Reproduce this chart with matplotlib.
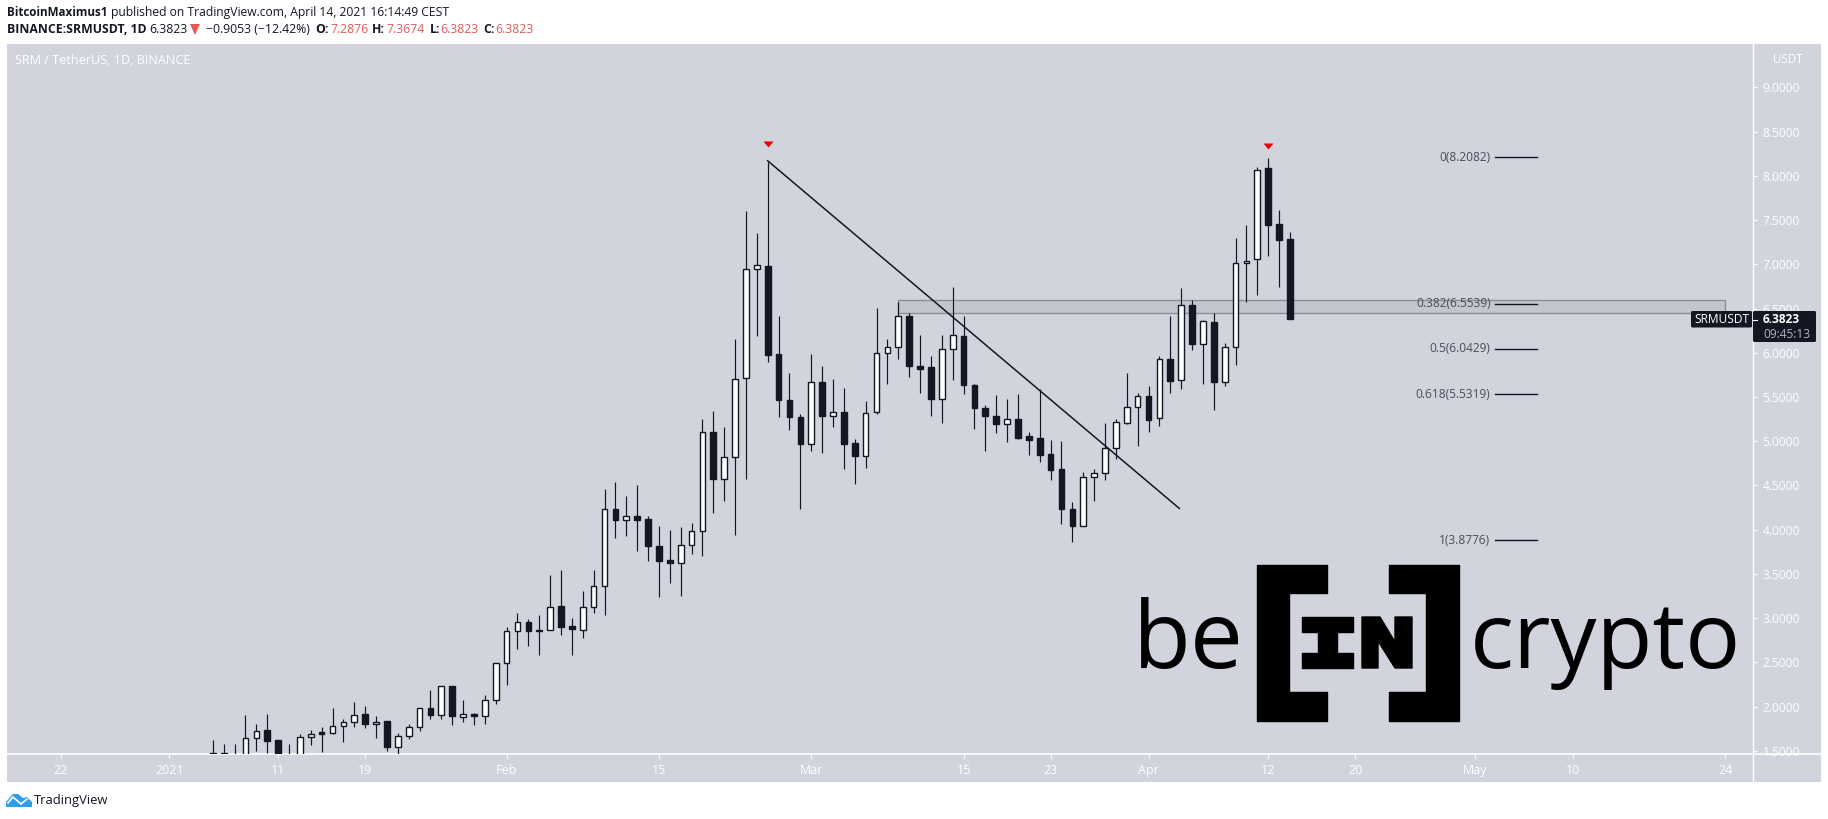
import matplotlib
matplotlib.use("Agg")
import matplotlib.pyplot as plt
import numpy as np
import pandas as pd
from matplotlib.patches import Polygon, Rectangle, FancyBboxPatch
from matplotlib.path import Path

# Daily candles, 5 Jan to 14 Apr 2021
first_day = "2021-01-05"
opens = [1.40, 1.48, 1.33, 1.38, 1.64, 1.73, 1.62, 1.38, 1.40, 1.66,
         1.71, 1.70, 1.78, 1.82, 1.92, 1.80, 1.84, 1.54, 1.67, 1.77,
         1.98, 1.90, 2.23, 1.88, 1.92, 1.89, 2.07, 2.49, 2.85, 2.96,
         2.85, 2.87, 3.14, 2.91, 2.87, 3.13, 3.36, 4.23, 4.11, 4.16,
         4.12, 3.82, 3.66, 3.62, 3.83, 3.98, 5.10, 4.57, 4.82, 5.71,
         6.95, 6.98, 5.99, 5.47, 5.27, 4.97, 5.67, 5.28, 5.33, 4.98,
         4.83, 5.33, 6.00, 6.06, 6.42, 5.85, 5.84, 5.48, 6.04, 6.19,
         5.63, 5.37, 5.29, 5.20, 5.25, 5.06, 5.04, 4.86, 4.69, 4.23,
         4.04, 4.59, 4.64, 4.92, 5.21, 5.39, 5.51, 5.26, 5.93, 5.69,
         6.54, 6.10, 6.35, 5.67, 6.07, 7.02, 7.06, 8.09, 7.46, 7.2876]
highs = [1.62, 1.58, 1.58, 1.90, 1.80, 1.92, 1.62, 1.58, 1.69, 1.73,
         1.77, 1.98, 1.86, 2.05, 2.01, 1.89, 1.84, 1.70, 1.80, 1.98,
         2.19, 2.23, 2.23, 2.07, 1.93, 2.13, 2.49, 2.90, 3.06, 2.99,
         3.04, 3.49, 3.54, 3.00, 3.31, 3.54, 4.46, 4.54, 4.38, 4.50,
         4.16, 4.04, 4.00, 4.03, 4.08, 5.25, 5.34, 5.16, 6.15, 7.60,
         7.35, 8.16, 6.42, 5.77, 5.31, 5.99, 5.85, 5.70, 5.60, 5.02,
         5.46, 6.51, 6.16, 6.57, 6.45, 6.20, 5.96, 6.20, 6.74, 6.42,
         5.65, 5.41, 5.52, 5.48, 5.53, 5.10, 5.59, 5.01, 5.00, 4.31,
         4.65, 4.69, 5.21, 5.25, 5.77, 5.54, 5.62, 5.96, 6.42, 6.73,
         6.60, 6.37, 6.45, 6.11, 7.30, 7.44, 8.10, 8.20, 7.61, 7.3674]
lows = [1.35, 1.35, 1.30, 1.35, 1.50, 1.48, 1.38, 1.35, 1.38, 1.57,
        1.49, 1.69, 1.60, 1.77, 1.76, 1.64, 1.50, 1.44, 1.63, 1.72,
        1.86, 1.86, 1.79, 1.82, 1.79, 1.80, 2.03, 2.24, 2.65, 2.69,
        2.58, 2.87, 2.81, 2.58, 2.78, 3.06, 3.04, 3.90, 3.93, 3.76,
        3.65, 3.24, 3.40, 3.25, 3.73, 3.70, 4.19, 4.32, 3.94, 4.57,
        6.19, 5.90, 5.27, 5.13, 4.23, 4.89, 4.87, 5.16, 4.69, 4.52,
        4.70, 5.31, 5.65, 5.93, 5.73, 5.54, 5.29, 5.21, 5.69, 5.53,
        5.14, 4.89, 5.09, 4.99, 5.02, 4.84, 4.76, 4.56, 4.06, 3.86,
        4.04, 4.32, 4.56, 4.80, 5.20, 4.95, 5.10, 5.17, 5.54, 5.59,
        6.03, 5.65, 5.35, 5.62, 5.86, 6.57, 6.65, 7.09, 6.74, 6.3823]
closes = [1.48, 1.40, 1.40, 1.64, 1.72, 1.61, 1.41, 1.42, 1.66, 1.69,
          1.69, 1.78, 1.82, 1.91, 1.80, 1.83, 1.54, 1.67, 1.77, 1.98,
          1.90, 2.23, 1.89, 1.92, 1.89, 2.07, 2.49, 2.85, 2.96, 2.85,
          2.87, 3.13, 2.90, 2.88, 3.13, 3.36, 4.23, 4.11, 4.16, 4.11,
          3.82, 3.64, 3.62, 3.83, 3.98, 5.10, 4.57, 4.82, 5.70, 6.95,
          6.99, 5.98, 5.47, 5.27, 4.97, 5.67, 5.28, 5.33, 4.97, 4.83,
          5.32, 6.00, 6.06, 6.41, 5.85, 5.82, 5.48, 6.04, 6.20, 5.63,
          5.37, 5.29, 5.20, 5.25, 5.04, 5.01, 4.84, 4.67, 4.23, 4.04,
          4.59, 4.64, 4.92, 5.22, 5.39, 5.51, 5.24, 5.93, 5.68, 6.54,
          6.10, 6.36, 5.67, 6.07, 7.02, 7.04, 8.07, 7.44, 7.28, 6.3823]

# Axis labels
tick_dates = ["2020-12-22", "2021-01-01", "2021-01-11", "2021-01-19", "2021-02-01",
              "2021-02-15", "2021-03-01", "2021-03-15", "2021-03-23", "2021-04-01",
              "2021-04-12", "2021-04-20", "2021-05-01", "2021-05-10", "2021-05-24"]
tick_labels = ["22", "2021", "11", "19", "Feb", "15", "Mar", "15", "23", "Apr",
               "12", "20", "May", "10", "24"]
price_ticks = [1.5, 2.0, 2.5, 3.0, 3.5, 4.0, 4.5, 5.0, 5.5, 6.0, 6.5, 7.0, 7.5, 8.0, 8.5, 9.0]

# Drawings on the chart
fib_levels = ["0", "0.382", "0.5", "0.618", "1"]
fib_prices = [8.2082, 6.5539, 6.0429, 5.5319, 3.8776]
trend_dates = ["2021-02-25 00:00", "2021-04-03 20:00"]
trend_prices = [8.17, 4.24]
zone_dates = ["2021-03-09", "2021-05-24"]
zone_prices = [6.453, 6.593]
peak_dates = ["2021-02-25", "2021-04-12"]
peak_prices = [8.36, 8.34]
fib_dates = ["2021-05-02 20:00", "2021-05-06 18:00"]

BG = "#d1d4dd"
DARK = "#131722"
LABEL = "#ffffff"
FONT = "Open Sans"
plt.rcParams["font.family"] = [FONT, "DejaVu Sans"]


def days(d):
    # days since 1 Jan 2021, used as the x scale
    return (pd.to_datetime(d) - pd.Timestamp("2021-01-01")) / pd.Timedelta(days=1)


def pixel_axes(z):
    a = fig.add_axes([0, 0, 1, 1], zorder=z)
    a.set_xlim(0, 1828)
    a.set_ylim(819, 0)
    a.axis("off")
    a.patch.set_alpha(0)
    return a


fig = plt.figure(figsize=(18.28, 8.19), dpi=100, facecolor="white")
back = pixel_axes(0)
ax = fig.add_axes([7 / 1828, (819 - 754) / 819, 1746 / 1828, 710 / 819], zorder=1)
front = pixel_axes(2)

# grey panel behind everything
back.add_patch(Rectangle((7, 44), 1814, 738, color=BG, lw=0))
back.plot([7, 1821], [754, 754], color="white", lw=1.2)
back.plot([1753, 1753], [44, 782], color="white", lw=1.0)

ax.patch.set_alpha(0)
for s in ax.spines.values():
    s.set_visible(False)
ax.set_xlim(-14.92, 145.56)
ax.set_ylim(1.4636, 9.4907)

# candles
x = days(pd.date_range(first_day, periods=len(opens))).to_numpy()
o = np.array(opens)
c = np.array(closes)
up = c >= o
ax.vlines(x, lows, highs, color=DARK, lw=0.85, zorder=3)
ax.bar(x[up], (c - o)[up], bottom=o[up], width=0.52, facecolor="white",
       edgecolor=DARK, linewidth=1.0, zorder=4)
ax.bar(x[~up], (o - c)[~up], bottom=c[~up], width=0.52, facecolor=DARK,
       edgecolor=DARK, linewidth=1.0, zorder=4)

# resistance zone, trend line, tops
zx = days(zone_dates)
ax.add_patch(Rectangle((zx[0], zone_prices[0]), zx[1] - zx[0], zone_prices[1] - zone_prices[0],
                       facecolor="#c3c6cf", edgecolor="#8b8e97", lw=1.0, zorder=2))
ax.plot(days(trend_dates), trend_prices, color=DARK, lw=1.1, zorder=5)
tri = Path([(-5, 3), (5, 3), (0, -3), (-5, 3)])
ax.scatter(days(peak_dates), peak_prices, marker=tri, s=52, color="#f00000", lw=0, zorder=6)

# fib levels
fx = days(fib_dates)
for lev, p in zip(fib_levels, fib_prices):
    ax.plot(fx, [p, p], color=DARK, lw=1.0, zorder=3)
    ax.text(fx[0] - 0.4, p, lev + "(" + str(p) + ")", ha="right", va="center",
            fontsize=8.6, color="#4a4d57", zorder=6)

# axes ticks
ax.set_xticks(days(tick_dates))
ax.set_xticklabels(tick_labels)
ax.yaxis.tick_right()
ax.set_yticks(price_ticks)
ax.set_yticklabels(["%.4f" % p for p in price_ticks])
ax.tick_params(axis="x", length=3, width=0.8, color="white", labelcolor=LABEL,
               labelsize=9, pad=4.5)
ax.tick_params(axis="y", length=3, width=0.8, color="white", labelcolor=LABEL,
               labelsize=8.6, pad=4)

# header
line2 = [(7, "BINANCE:SRMUSDT, 1D", 8.8, "bold", DARK), (149, "6.3823", 8.8, "normal", DARK),
         (205.5, "\u22120.9053 (\u221212.42%)", 8.8, "normal", DARK),
         (315, "O:", 8.8, "bold", DARK), (330, "7.2876", 8.8, "normal", "#e05a5a"),
         (372, "H:", 8.8, "bold", DARK), (386.5, "7.3674", 8.8, "normal", "#e05a5a"),
         (430, "L:", 8.8, "bold", DARK), (440, "6.3823", 8.8, "normal", "#e05a5a"),
         (483, "C:", 8.8, "bold", DARK), (495.6, "6.3823", 8.8, "normal", "#e05a5a")]
back.text(7, 12.7, "BitcoinMaximus1", fontsize=8.4, fontweight="bold", color=DARK, va="center")
back.text(111, 12.7, "published on TradingView.com, April 14, 2021 16:14:49 CEST",
          fontsize=8.7, color=DARK, va="center")
for px, s, size, w, col in line2:
    back.text(px, 29.3, s, fontsize=size, fontweight=w, color=col, va="center")
back.add_patch(Polygon([(190, 24), (200, 24), (195, 35)], color="#e05a5a", lw=0))
back.text(15, 60.7, "SRM / TetherUS, 1D, BINANCE", fontsize=9.1, color=LABEL, va="center")
back.text(1773, 59.3, "USDT", fontsize=8.4, color=LABEL, va="center")

# footer
back.add_patch(Polygon([(6, 807), (6, 802), (13, 794), (18, 794), (23, 798), (27, 797),
                        (32, 802), (32, 807)], color="#2e9ef0", lw=0))
back.plot([8, 13, 21, 27], [803, 797, 804, 799], color="white", lw=1.2)
back.text(34, 800.7, "TradingView", fontsize=9.4, color=DARK, va="center")

# price tags
front.add_patch(FancyBboxPatch((1691, 311), 61, 16.5, boxstyle="round,pad=0,rounding_size=1.5",
                               color=DARK, lw=0))
front.add_patch(FancyBboxPatch((1753, 311), 63, 31, boxstyle="round,pad=0,rounding_size=1.5",
                               color=DARK, lw=0))
front.plot([1753, 1757], [319.5, 319.5], color="white", lw=0.8)
front.text(1721.5, 319.5, "SRMUSDT", fontsize=8.6, color="white", ha="center", va="center")
front.text(1763, 319.5, "6.3823", fontsize=8.6, fontweight="bold", color="white", va="center")
front.text(1763, 334, "09:45:13", fontsize=8.6, color="#b2b5be", va="center")

# beincrypto logo
left_br = [(1257, 565), (1327, 565), (1327, 593), (1289, 593), (1289, 692), (1327, 692),
           (1327, 721), (1257, 721)]
right_br = [(1389, 565), (1459, 565), (1459, 721), (1389, 721), (1389, 692), (1426, 692),
            (1426, 593), (1389, 593)]
letter_i = [(1302, 617), (1353, 617), (1353, 632), (1337, 632), (1337, 653), (1353, 653),
            (1353, 668), (1302, 668), (1302, 653), (1318, 653), (1318, 632), (1302, 632)]
letter_n = [(1362, 617), (1380, 617), (1395, 642), (1395, 617), (1412, 617), (1412, 668),
            (1395, 668), (1378, 641), (1378, 668), (1362, 668)]
for poly in (left_br, right_br, letter_i, letter_n):
    back.add_patch(Polygon(poly, facecolor="black", edgecolor="black", lw=1, joinstyle="round"))
back.text(1133, 668, "be", fontsize=68, color="black", va="baseline")
back.text(1470, 668, "crypto", fontsize=66, color="black", va="baseline")

fig.savefig("out.png", dpi=100)
